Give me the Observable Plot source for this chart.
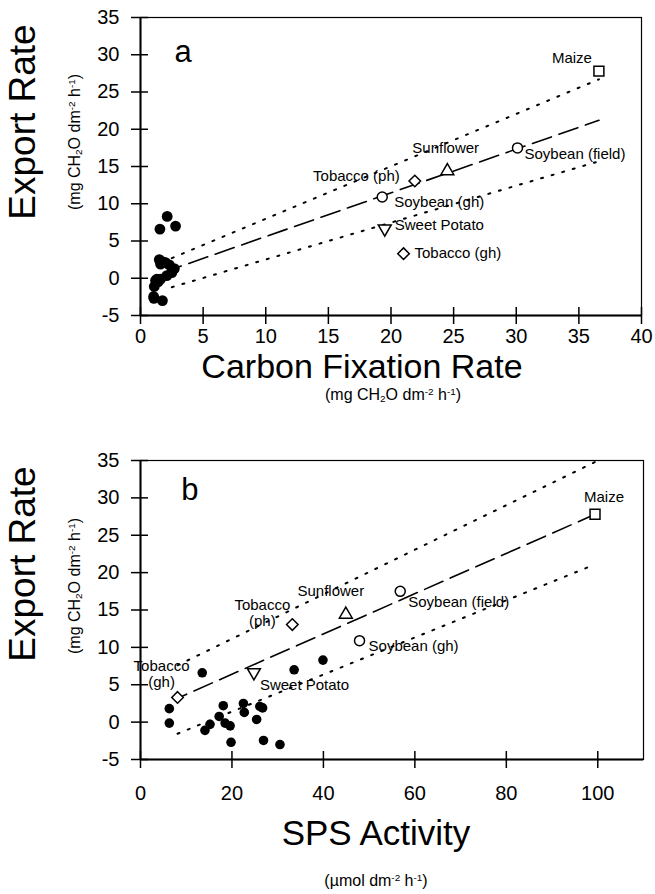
<!DOCTYPE html>
<html>
<head>
<meta charset="utf-8">
<script src="https://cdn.jsdelivr.net/npm/d3@7"></script>
<script src="https://cdn.jsdelivr.net/npm/@observablehq/plot@0.6"></script>
<style>
  html, body { margin: 0; padding: 0; background: #fff; }
  #wrap { position: relative; width: 655px; height: 894px; font-family: "Liberation Sans", Arial, sans-serif; color: #000; }
  .panel { position: absolute; left: 0; }
  .t { position: absolute; white-space: nowrap; line-height: 1; }
  .rot { transform: translate(-50%, -50%) rotate(-90deg); }
  .hor { transform: translateX(-50%); }
  sub, sup { font-size: 0.62em; line-height: 0; }
  sub { vertical-align: -0.25em; }
  sup { vertical-align: 0.55em; }
</style>
</head>
<body>
<div id="wrap"></div>
<script>
// ---------- data ----------
const exportTicks = [-5, 0, 5, 10, 15, 20, 25, 30, 35];
const carbonTicks = [0, 5, 10, 15, 20, 25, 30, 35, 40];
const spsTicks = [0, 20, 40, 60, 80, 100];
const carbonDomain = [0, 40];
const spsDomain = [0, 110];
const exportDomain = [-5, 35];

// filled circles (export rate, carbon fixation rate, SPS activity)
const filledExport = [1.8, -0.13, 6.6, -1.1, -0.3, 0.76, 2.2, -0.13, -0.5, -2.7, 2.5, 1.3, 0.36, 2.1, 1.9, -2.45, -3.0, 7.0, 8.3];
const filledCarbon = [2.3, 1.3, 1.55, 1.1, 1.2, 2.5, 1.8, 1.6, 1.4, 1.07, 1.5, 2.7, 2.1, 2.0, 1.6, 1.05, 1.75, 2.8, 2.13];
const filledSPS    = [6.3, 6.3, 13.5, 14.1, 15.2, 17.2, 18.1, 18.5, 19.6, 19.8, 22.5, 22.7, 25.4, 26.1, 26.7, 26.9, 30.5, 33.6, 39.9];

// named crops
const cropNames  = ["Maize", "Soybean (field)", "Sunflower", "Tobacco (ph)", "Soybean (gh)", "Sweet Potato", "Tobacco (gh)"];
const cropExport = [27.8, 17.5, 14.4, 13.05, 10.9, 6.65, 3.3];
const cropCarbon = [36.6, 30.1, 24.5, 21.9, 19.3, 19.5, 21.0];
const cropSPS    = [99.4, 56.8, 44.9, 33.2, 47.9, 24.8, 8.1];

// regression line and bands (end points)
const lineCarbonX = [2.5, 36.6];
const fitA = [1.2, 21.2];
const upperA = [2.7, 26.7];
const lowerA = [-1.2, 15.7];
const lineSpsX = [8.1, 99.4];
const fitB = [3.2, 27.8];
const upperB = [7.6, 34.8];
const lowerB = [-1.55, 21.1];

// ---------- styles ----------
const cropSymbol = {"Maize": "square", "Soybean (field)": "circle", "Sunflower": "triangle", "Tobacco (ph)": "diamond2",
  "Soybean (gh)": "circle", "Sweet Potato": "triangle", "Tobacco (gh)": "diamond2"};
const cropRotate = {"Sweet Potato": 180};
const cropR = {"square": 5.6, "circle": 5, "triangle": 4.8, "diamond2": 5.2};
const labelsA = {
  "Maize": {text: "Maize", dx: -7, dy: -13, anchor: "end"},
  "Soybean (field)": {text: "Soybean (field)", dx: 7, dy: 6, anchor: "start"},
  "Sunflower": {text: "Sunflower", dx: -35, dy: -23, anchor: "start"},
  "Tobacco (ph)": {text: "Tobacco (ph)", dx: -15, dy: -5, anchor: "end"},
  "Soybean (gh)": {text: "Soybean (gh)", dx: 12, dy: 5, anchor: "start"},
  "Sweet Potato": {text: "Sweet Potato", dx: 10, dy: -4, anchor: "start"},
  "Tobacco (gh)": {text: "Tobacco (gh)", dx: 11, dy: -1, anchor: "start"}
};
const labelsB = {
  "Maize": {text: "Maize", dx: 9, dy: -18, anchor: "middle"},
  "Soybean (field)": {text: "Soybean (field)", dx: 8, dy: 10, anchor: "start"},
  "Sunflower": {text: "Sunflower", dx: -15, dy: -24, anchor: "middle"},
  "Tobacco (ph)": {text: "Tobacco\n(ph)", dx: -30, dy: -12, anchor: "middle"},
  "Soybean (gh)": {text: "Soybean (gh)", dx: 9, dy: 5, anchor: "start"},
  "Sweet Potato": {text: "Sweet Potato", dx: 6, dy: 12, anchor: "start"},
  "Tobacco (gh)": {text: "Tobacco\n(gh)", dx: -16, dy: -24, anchor: "middle"}
};
const FONT = "Liberation Sans, Arial, sans-serif";

function panel({xDomain, xTicks, xLabelTop, filledX, cropX, lineX, fit, upper, lower, labels, letter, letterX, letterY, dotR, height, marginTop, marginBottom, marginRight}) {
  const idx = d3.range(filledExport.length);
  const cidx = d3.range(cropNames.length);
  const marks = [
    Plot.line([0, 1], {x: i => lineX[i], y: i => upper[i], stroke: "#000", strokeWidth: 2, strokeDasharray: "2,9"}),
    Plot.line([0, 1], {x: i => lineX[i], y: i => lower[i], stroke: "#000", strokeWidth: 2, strokeDasharray: "2,9"}),
    Plot.line([0, 1], {x: i => lineX[i], y: i => fit[i], stroke: "#000", strokeWidth: 1.6, strokeDasharray: "20,8", strokeDashoffset: 10}),
    Plot.dot(idx, {x: i => filledX[i], y: i => filledExport[i], r: dotR, fill: "#000", stroke: "none"}),
  ];
  cidx.forEach(i => {
    const name = cropNames[i];
    const sym = cropSymbol[name];
    marks.push(Plot.dot([i], {x: j => cropX[j], y: j => cropExport[j], symbol: sym, r: cropR[sym],
      rotate: cropRotate[name] || 0, fill: "#fff", stroke: "#000", strokeWidth: 1.5}));
    const L = labels[name];
    marks.push(Plot.text([i], {x: j => cropX[j], y: j => cropExport[j], text: () => L.text, dx: L.dx, dy: L.dy,
      textAnchor: L.anchor, fontSize: 15, lineHeight: 1.08, fill: "#000"}));
  });
  marks.push(Plot.text([letter], {x: () => letterX, y: () => letterY, text: d => d, fontSize: 31, fill: "#000"}));
  // axes: crossing tick marks
  marks.push(Plot.axisY({ticks: exportTicks, tickSize: 9, tickPadding: 12, fontSize: 20, tickFormat: d => d < 0 ? "-" + Math.abs(d) : String(d), strokeWidth: 1.5}));
  marks.push(Plot.axisY({ticks: exportTicks, tickSize: -8, text: null, strokeWidth: 1.5}));
  marks.push(Plot.axisX({ticks: xTicks, tickSize: 9, tickPadding: xLabelTop, fontSize: 20, strokeWidth: 1.5}));
  marks.push(Plot.axisX({ticks: xTicks, tickSize: -8, text: null, strokeWidth: 1.5}));
  marks.push(Plot.frame({stroke: "#000", strokeWidth: 1.2}));
  marks.push(Plot.ruleX([xDomain[0]], {stroke: "#000", strokeWidth: 2}));
  marks.push(Plot.ruleY([exportDomain[0]], {stroke: "#000", strokeWidth: 2}));
  return Plot.plot({
    width: 655, height, marginTop, marginBottom, marginLeft: 140, marginRight,
    style: {fontFamily: FONT, color: "#000", background: "#fff", overflow: "visible"},
    x: {domain: xDomain, label: null},
    y: {domain: exportDomain, label: null},
    marks
  });
}

const wrap = document.getElementById("wrap");

const pa = panel({xDomain: carbonDomain, xTicks: carbonTicks, xLabelTop: 4, filledX: filledCarbon, cropX: cropCarbon,
  lineX: lineCarbonX, fit: fitA, upper: upperA, lower: lowerA, labels: labelsA, letter: "a", letterX: 3.4, letterY: 30.3,
  dotR: 5.4, height: 405, marginTop: 17, marginBottom: 90, marginRight: 14});
pa.classList.add("panel"); pa.style.top = "0px";
wrap.appendChild(pa);

const pb = panel({xDomain: spsDomain, xTicks: spsTicks, xLabelTop: 17, filledX: filledSPS, cropX: cropSPS,
  lineX: lineSpsX, fit: fitB, upper: upperB, lower: lowerB, labels: labelsB, letter: "b", letterX: 10.8, letterY: 31.0,
  dotR: 4.8, height: 489, marginTop: 55, marginBottom: 135, marginRight: 12});
pb.classList.add("panel"); pb.style.top = "405px";
wrap.appendChild(pb);

// ---------- axis titles (HTML, placed by baseline) ----------
const unitsCH2O = '(mg CH<sub>2</sub>O dm<sup>-2</sup> h<sup>-1</sup>)';
const unitsSPS = '(µmol dm<sup>-2</sup> h<sup>-1</sup>)';
function vtitle(html, size, baselineX, centerY) {
  const d = document.createElement("div");
  d.className = "t rot"; d.innerHTML = html; d.style.fontSize = size + "px";
  d.style.left = (baselineX - 0.3465 * size) + "px"; d.style.top = centerY + "px";
  wrap.appendChild(d);
}
function htitle(html, size, centerX, baselineY) {
  const d = document.createElement("div");
  d.className = "t hor"; d.innerHTML = html; d.style.fontSize = size + "px";
  d.style.left = centerX + "px"; d.style.top = (baselineY - 0.8465 * size) + "px";
  wrap.appendChild(d);
}
vtitle("Export Rate", 37, 35, 122);
vtitle(unitsCH2O, 16, 81, 142);
htitle("Carbon Fixation Rate", 34, 362, 378);
htitle(unitsCH2O, 16, 393, 401);

vtitle("Export Rate", 37, 35, 564);
vtitle(unitsCH2O, 16, 81, 586);
htitle("SPS Activity", 35, 376, 845);
htitle(unitsSPS, 16, 376, 887);
</script>
</body>
</html>
